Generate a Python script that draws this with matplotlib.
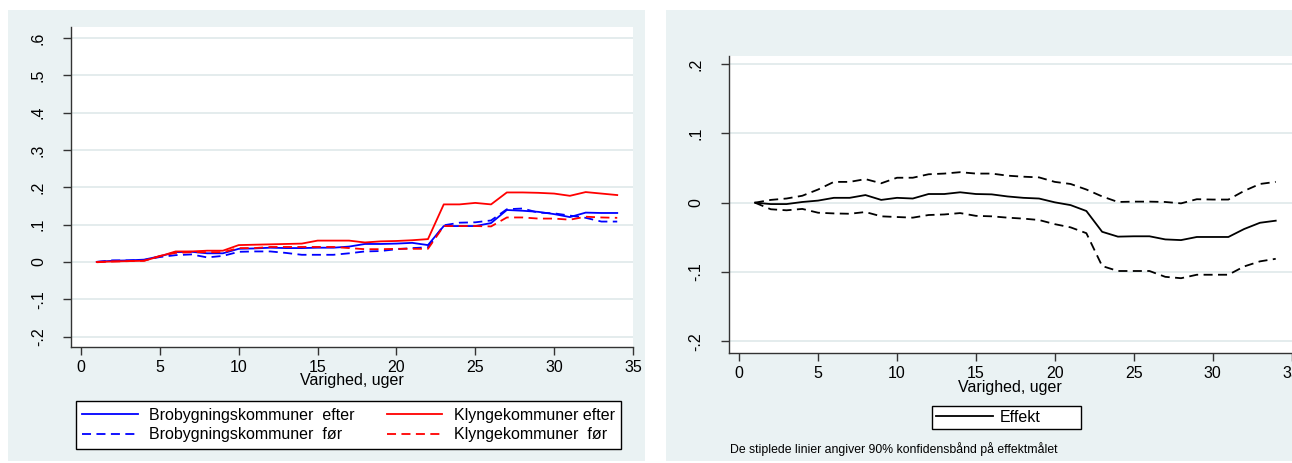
import numpy as np
import matplotlib.pyplot as plt
from matplotlib.patches import Rectangle

plt.rcParams['font.family'] = ['Liberation Sans', 'DejaVu Sans']

weeks = np.arange(1, 35)

# venstre figur: andel i beskæftigelse
bro_efter = [0, .003, .004, .006, .015, .026, .027, .023, .023, .035, .036, .038,
             .037, .037, .038, .038, .041, .048, .048, .049, .051, .045, .096, .096,
             .096, .104, .139, .137, .134, .128, .120, .132, .131, .131]
bro_foer = [0, .004, .004, .005, .013, .018, .020, .012, .016, .027, .028, .028,
            .024, .019, .019, .019, .023, .028, .029, .034, .037, .039, .098, .105,
            .106, .111, .141, .143, .132, .130, .124, .118, .108, .108]
klynge_efter = [0, .001, .002, .003, .015, .028, .028, .030, .030, .045, .046, .047,
                .048, .049, .057, .057, .057, .052, .055, .056, .058, .061, .154, .154,
                .158, .154, .186, .186, .185, .183, .177, .187, .183, .179]
klynge_foer = [-.001, .001, .002, .003, .016, .024, .026, .026, .026, .037, .037, .040,
               .040, .040, .040, .040, .037, .034, .034, .035, .035, .035, .096, .096,
               .096, .095, .119, .119, .116, .116, .113, .121, .119, .118]

# højre figur: effekt med 90% konfidensbånd
effekt = [0, -.002, -.002, .001, .003, .007, .007, .011, .004, .007, .006, .0125,
          .0125, .015, .0125, .012, .009, .007, .006, .0005, -.0035, -.012, -.042, -.049,
          -.0485, -.0485, -.053, -.054, -.0495, -.0495, -.0495, -.038, -.029, -.026]
oevre = [0, .004, .006, .010, .019, .030, .030, .034, .028, .036, .036, .041,
         .042, .044, .042, .042, .039, .0375, .0365, .030, .027, .019, .009, .001,
         .0015, .0015, .001, -.001, .005, .0045, .0045, .017, .027, .030]
nedre = [0, -.0095, -.011, -.009, -.0145, -.0155, -.016, -.0135, -.0197, -.0207, -.0216, -.0178,
         -.017, -.015, -.019, -.0197, -.0216, -.023, -.025, -.031, -.0356, -.044, -.0914, -.0986,
         -.0986, -.0986, -.107, -.109, -.104, -.104, -.104, -.092, -.0847, -.081]

xticks = [0, 5, 10, 15, 20, 25, 30, 35]
yticks_l = [-.2, -.1, 0, .1, .2, .3, .4, .5, .6]
ylabels_l = ['-.2', '-.1', '0', '.1', '.2', '.3', '.4', '.5', '.6']
yticks_r = [-.2, -.1, 0, .1, .2]
ylabels_r = ['-.2', '-.1', '0', '.1', '.2']

bg = '#eaf2f3'
grid = '#e2eaec'
W, H = 1292, 463
fs = 11.5

fig = plt.figure(figsize=(W / 100, H / 100), dpi=100)
fig.patches.append(Rectangle((8 / W, 1 - 461 / H), 637 / W, 451 / H,
                             transform=fig.transFigure, facecolor=bg, edgecolor='none', zorder=-10))
fig.patches.append(Rectangle((666 / W, 1 - 461 / H), 626 / W, 451 / H,
                             transform=fig.transFigure, facecolor=bg, edgecolor='none', zorder=-10))

ax1 = fig.add_axes([71 / W, 1 - 347 / H, 562 / W, 320.3 / H])
ax2 = fig.add_axes([728.7 / W, 1 - 353.4 / H, 562.8 / W, 297.7 / H])


def style(ax, yt, yl):
    ax.set_facecolor('white')
    for s in ['top', 'right']:
        ax.spines[s].set_visible(False)
    for s in ['left', 'bottom']:
        ax.spines[s].set_color('#333333')
        ax.spines[s].set_linewidth(1.0)
    ax.set_xticks(xticks)
    ax.set_xticklabels([str(t) for t in xticks], fontsize=fs)
    ax.set_yticks(yt)
    ax.set_yticklabels(yl, fontsize=fs, rotation=90, va='center')
    ax.tick_params(axis='x', length=6, width=1, pad=3, color='#333333')
    ax.tick_params(axis='y', length=6, width=1, pad=12, color='#333333')
    ax.grid(axis='y', color=grid, linewidth=1.3)
    ax.set_axisbelow(True)
    ax.set_xlabel('Varighed, uger', fontsize=fs, labelpad=-1)


style(ax1, yticks_l, ylabels_l)
ax1.set_xlim(-0.634, 35)
ax1.set_ylim(-0.228, 0.630)
lw = 1.3
dash = (0, (5, 3))
l1, = ax1.plot(weeks, bro_efter, color='#0000ff', lw=lw)
l2, = ax1.plot(weeks, bro_foer, color='#0000ff', lw=lw, linestyle=dash)
l3, = ax1.plot(weeks, klynge_efter, color='#ff0000', lw=lw)
l4, = ax1.plot(weeks, klynge_foer, color='#ff0000', lw=lw, linestyle=dash)

leg1 = fig.legend([l1, l2, l3, l4],
                  ['Brobygningskommuner  efter', 'Brobygningskommuner  før',
                   'Klyngekommuner efter', 'Klyngekommuner  før'],
                  ncol=2, loc='center', mode='expand', borderaxespad=0,
                  bbox_to_anchor=(76 / W, 1 - 451 / H, 545 / W, 52 / H),
                  fontsize=fs, handlelength=3.5, handletextpad=0.7,
                  labelspacing=0.3, borderpad=0.4, fancybox=False,
                  framealpha=1, edgecolor='black')
leg1.get_frame().set_linewidth(1.0)

style(ax2, yticks_r, ylabels_r)
ax2.set_xlim(-0.665, 35)
ax2.set_ylim(-0.2175, 0.2121)
l5, = ax2.plot(weeks, effekt, color='black', lw=lw)
ax2.plot(weeks, oevre, color='black', lw=lw, linestyle=dash)
ax2.plot(weeks, nedre, color='black', lw=lw, linestyle=dash)

leg2 = fig.legend([l5], ['Effekt'], loc='center', mode='expand', borderaxespad=0,
                  bbox_to_anchor=(932 / W, 1 - 432 / H, 149 / W, 29 / H),
                  fontsize=fs, handlelength=3.6, handletextpad=0.4,
                  borderpad=0.25, fancybox=False, framealpha=1, edgecolor='black')
leg2.get_frame().set_linewidth(1.0)

fig.text(730 / W, 1 - 449 / H, 'De stiplede linier angiver 90% konfidensbånd på effektmålet',
         fontsize=8.8, va='center', ha='left')

fig.savefig('out.png', dpi=100, facecolor='white')
